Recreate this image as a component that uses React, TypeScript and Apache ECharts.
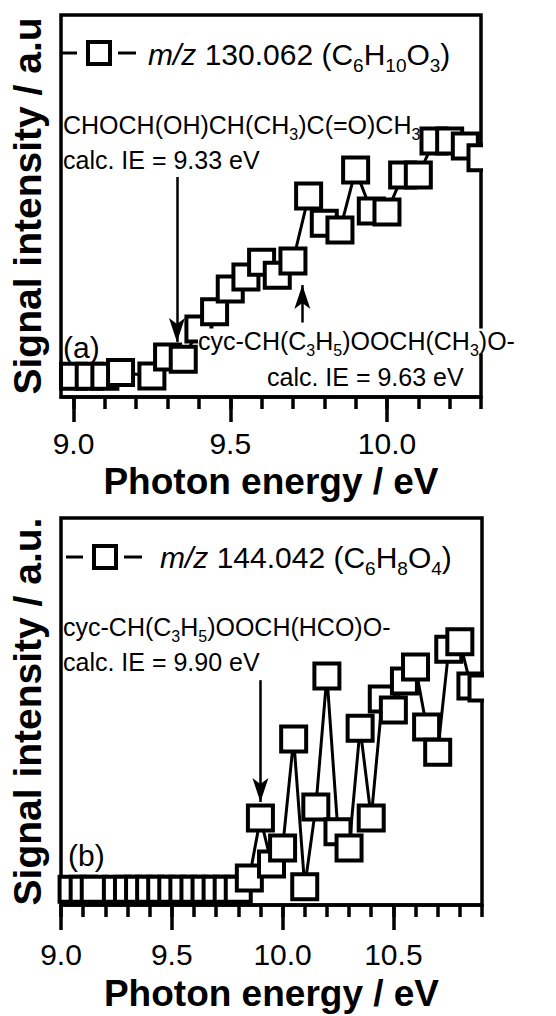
import React, { useEffect, useRef } from "react";
import * as echarts from "echarts";

const FONT = '"Liberation Sans", Arial, Helvetica, sans-serif';

// Panel (a): m/z 130.062 (C6H10O3)
const energiesA = [9.0, 9.05, 9.1, 9.15, 9.25, 9.3, 9.35, 9.4, 9.45, 9.5, 9.55, 9.6, 9.65, 9.7, 9.75, 9.8, 9.85, 9.9, 9.95, 10.0, 10.05, 10.1, 10.15, 10.2, 10.25, 10.3];
const signalA = [5.4, 5.4, 5.4, 6.4, 5.5, 10.5, 9.9, 17.8, 22.3, 28.3, 31.4, 35.3, 31.9, 35.6, 52.6, 45.5, 43.7, 59.4, 48.7, 48.4, 58.1, 58.1, 67.0, 67.0, 65.7, 62.6];

// Panel (b): m/z 144.042 (C6H8O4)
const energiesB = [9.05, 9.1, 9.15, 9.25, 9.3, 9.35, 9.4, 9.45, 9.5, 9.55, 9.6, 9.65, 9.7, 9.75, 9.8, 9.85, 9.9, 9.95, 10.0, 10.05, 10.1, 10.15, 10.2, 10.25, 10.3, 10.35, 10.4, 10.45, 10.5, 10.55, 10.6, 10.65, 10.7, 10.75, 10.8, 10.85, 10.9];
const signalB = [4.1, 4.1, 4.1, 4.1, 4.1, 4.1, 4.1, 4.1, 4.1, 4.1, 4.1, 4.1, 4.1, 4.1, 4.1, 7.0, 22.5, 10.6, 14.7, 42.9, 4.7, 25.3, 59.2, 18.9, 14.7, 45.7, 22.5, 53.2, 50.4, 57.9, 61.5, 46.0, 39.5, 66.1, 68.0, 56.6, 56.1];

// Axis ticks
const majorTicksA = [9.0, 9.5, 10.0];
const minorTicksA = [9.0, 9.1, 9.2, 9.3, 9.4, 9.5, 9.6, 9.7, 9.8, 9.9, 10.0, 10.1, 10.2, 10.3];
const majorTicksB = [9.0, 9.5, 10.0, 10.5];
const minorTicksB = [9.0, 9.1, 9.2, 9.3, 9.4, 9.5, 9.6, 9.7, 9.8, 9.9, 10.0, 10.1, 10.2, 10.3, 10.4, 10.5, 10.6, 10.7, 10.8, 10.9];

// Arrow annotations: [energy, from, to]
const arrowsA = [
  [9.33, 57.6, 14.4],
  [9.73, 19.5, 29.3],
];
const arrowsB = [[9.9, 58.1, 26.6]];

const XNAME = "Photon energy / eV";

function richSet(size: number, subSize: number, subPad: number) {
  return {
    s: { fontSize: subSize, lineHeight: subSize, fontFamily: FONT, fill: "#000", padding: [subPad, 0, 0, 0] },
    i: { fontSize: size, lineHeight: size, fontFamily: FONT, fontStyle: "italic", fill: "#000" },
  };
}

function txt(x: number, y: number, text: string, size: number, extra: any = {}) {
  return {
    type: "text",
    x,
    y,
    z: 100,
    style: {
      text,
      fill: "#000",
      fontSize: size,
      lineHeight: size,
      fontFamily: FONT,
      align: "left",
      verticalAlign: "middle",
      rich: richSet(size, Math.round(size * 0.64), Math.round(size * 0.72)),
      ...extra,
    },
  };
}

function legendIcon(x0: number, y: number) {
  return [
    { type: "line", z: 100, shape: { x1: x0, y1: y, x2: x0 + 17, y2: y }, style: { stroke: "#000", lineWidth: 3 } },
    { type: "rect", z: 100, shape: { x: x0 + 28, y: y - 11, width: 22, height: 22 }, style: { stroke: "#000", lineWidth: 4, fill: "#fff" } },
    { type: "line", z: 100, shape: { x1: x0 + 58, y1: y, x2: x0 + 76, y2: y }, style: { stroke: "#000", lineWidth: 3 } },
  ];
}

// white masks that clip squares protruding past the right frame
function mask(x: number, y: number, w: number, h: number) {
  return { type: "rect", z: 50, silent: true, shape: { x, y, width: w, height: h }, style: { fill: "#fff" } };
}

function xAxes(gridIndex: number, min: number, max: number, major: number[], minor: number[], margin: number, gap: number) {
  return [
    {
      gridIndex,
      type: "value",
      position: "bottom",
      min,
      max,
      axisLine: { show: true, lineStyle: { color: "#000", width: 3.5 } },
      axisTick: { show: true, customValues: major, length: 25, lineStyle: { color: "#000", width: 3.5 } },
      axisLabel: {
        show: true,
        customValues: major,
        formatter: (v: number) => v.toFixed(1),
        fontSize: 30,
        color: "#000",
        fontFamily: FONT,
        margin,
      },
      splitLine: { show: false },
      name: XNAME,
      nameLocation: "middle",
      nameGap: gap,
      nameTextStyle: { fontSize: 37, fontWeight: "bold", color: "#000", fontFamily: FONT },
    },
    {
      gridIndex,
      type: "value",
      position: "bottom",
      min,
      max,
      axisLine: { show: false },
      axisTick: { show: true, customValues: minor, length: 12, lineStyle: { color: "#000", width: 3.5 } },
      axisLabel: { show: false },
      splitLine: { show: false },
    },
  ];
}

function yAxis(gridIndex: number, name: string) {
  return {
    gridIndex,
    type: "value",
    min: 0,
    max: 100,
    axisLine: { show: false },
    axisTick: { show: false },
    axisLabel: { show: false },
    splitLine: { show: false },
    name,
    nameLocation: "middle",
    nameGap: 14,
    nameRotate: 90,
    nameTextStyle: { fontSize: 39, fontWeight: "bold", color: "#000", fontFamily: FONT },
  };
}

function series(xi: number, yi: number, xs: number[], ys: number[], arrows: number[][]) {
  return {
    type: "line",
    xAxisIndex: xi,
    yAxisIndex: yi,
    data: xs.map((e, i) => [e, ys[i]]),
    symbol: "rect",
    symbolSize: 25,
    showAllSymbol: true,
    itemStyle: { color: "#fff", borderColor: "#000", borderWidth: 4 },
    lineStyle: { color: "#000", width: 3 },
    emphasis: { disabled: true },
    markLine: {
      silent: true,
      symbol: ["none", "arrow"],
      symbolSize: [12, 24],
      label: { show: false },
      lineStyle: { color: "#000", width: 2.5, type: "solid" },
      data: arrows.map((a) => [{ coord: [a[0], a[1]] }, { coord: [a[0], a[2]] }]),
    },
  };
}

export default function App() {
  const ref = useRef<HTMLDivElement>(null);
  useEffect(() => {
    if (!ref.current) return;
    const chart = echarts.init(ref.current, undefined, { renderer: "svg" });
    chart.setOption({
      animation: false,
      backgroundColor: "#fff",
      textStyle: { fontFamily: FONT },
      grid: [
        { left: 57, top: 15, width: 424, height: 382, show: true, borderColor: "#000", borderWidth: 3.5, containLabel: false },
        { left: 57, top: 518, width: 425, height: 387, show: true, borderColor: "#000", borderWidth: 3.5, containLabel: false },
      ],
      xAxis: [
        ...xAxes(0, 8.96, 10.3, majorTicksA, minorTicksA, 31, 66),
        ...xAxes(1, 9.0, 10.9, majorTicksB, minorTicksB, 34, 70),
      ],
      yAxis: [yAxis(0, "Signal intensity / a.u"), yAxis(1, "Signal intensity / a.u.")],
      series: [series(0, 0, energiesA, signalA, arrowsA), series(2, 1, energiesB, signalB, arrowsB)],
      graphic: [
        mask(483, 15, 73, 385),
        mask(484, 518, 72, 390),
        ...legendIcon(60, 53),
        txt(148, 54, "{i|m/z} 130.062 (C{s|6}H{s|10}O{s|3})", 30),
        txt(63, 125, "CHOCH(OH)CH(CH{s|3})C(=O)CH{s|3}", 25),
        txt(63, 160, "calc. IE = 9.33 eV", 25),
        txt(63, 347, "(a)", 30),
        txt(198, 341, "cyc-CH(C{s|3}H{s|5})OOCH(CH{s|3})O-", 25, { backgroundColor: "#fff" }),
        txt(267, 377, "calc. IE = 9.63 eV", 25),
        ...legendIcon(66, 557),
        txt(160, 557, "{i|m/z} 144.042 (C{s|6}H{s|8}O{s|4})", 30),
        txt(63, 627, "cyc-CH(C{s|3}H{s|5})OOCH(HCO)O-", 25),
        txt(63, 662, "calc. IE = 9.90 eV", 25),
        txt(68, 855, "(b)", 30),
      ],
    });
    return () => chart.dispose();
  }, []);
  return <div ref={ref} style={{ position: "absolute", left: 0, top: 0, width: 556, height: 1016 }} />;
}
